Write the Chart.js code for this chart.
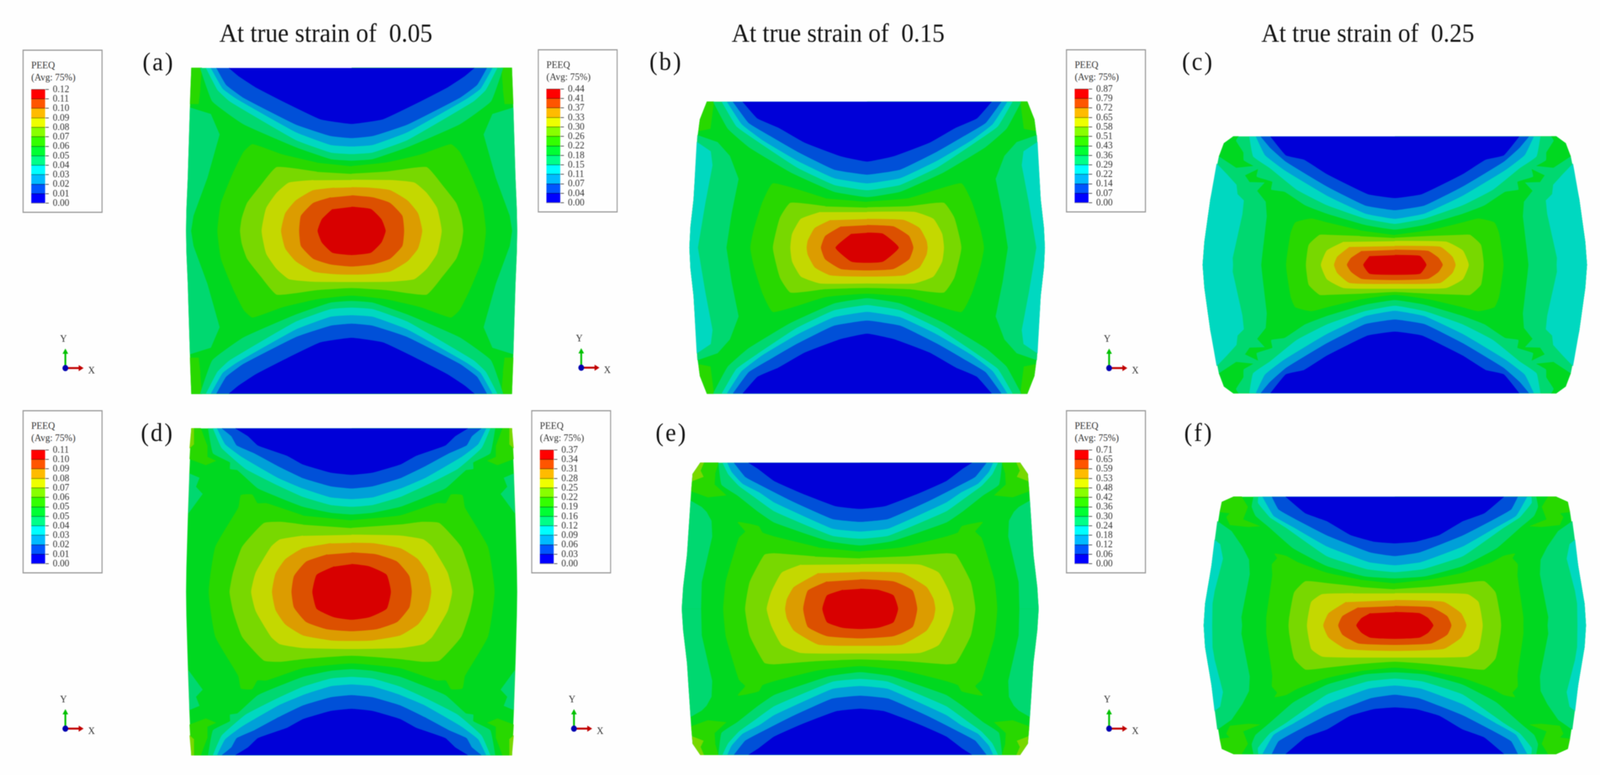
<!DOCTYPE html>
<html><head><meta charset="utf-8">
<script src="https://cdn.jsdelivr.net/npm/chart.js@4"></script>
<style>
html,body{margin:0;padding:0;background:#fefefe;overflow:hidden}
#page{position:relative;width:4398px;height:1984px;overflow:hidden;background:#fefefe;font-family:"Liberation Serif",serif;color:#111;transform-origin:0 0;filter:blur(1px)}
canvas{position:absolute}
.t{position:absolute;white-space:pre;line-height:1}
.box{position:absolute;border:3px solid #999;box-sizing:border-box;width:220px;height:418px}
</style></head><body><div id="page"></div>
<script>
// Contour levels, lowest (0) to highest (11)
const plotColours=['#0000d8','#0050d8','#00a0d8','#00d8c0','#00d870','#00d820','#28d800','#78d800','#c4d800','#dc9c00','#dc5000','#d80000'];
const legendColours=['#0000ff','#0055ff','#00bbff','#00ffff','#00ff88','#00ff33','#33ff00','#88ff00','#eeff00','#ffbb00','#ff5500','#ff0000'];

const titles=['At true strain of  0.05','At true strain of  0.15','At true strain of  0.25'];
const panelNames=['a','b','c','d','e','f'];

// PEEQ legend tick labels
const ticksA=['0.12','0.11','0.10','0.09','0.08','0.07','0.06','0.05','0.04','0.03','0.02','0.01','0.00'];
const ticksB=['0.44','0.41','0.37','0.33','0.30','0.26','0.22','0.18','0.15','0.11','0.07','0.04','0.00'];
const ticksC=['0.87','0.79','0.72','0.65','0.58','0.51','0.43','0.36','0.29','0.22','0.14','0.07','0.00'];
const ticksD=['0.11','0.10','0.09','0.08','0.07','0.06','0.05','0.05','0.04','0.03','0.02','0.01','0.00'];
const ticksE=['0.37','0.34','0.31','0.28','0.25','0.22','0.19','0.16','0.12','0.09','0.06','0.03','0.00'];
const ticksF=['0.71','0.65','0.59','0.53','0.48','0.42','0.36','0.30','0.24','0.18','0.12','0.06','0.00'];

// Quarter contours in specimen units, centre of specimen at 0,0.
// caps*: contour levels 4,3,2,1,0 ; core*: levels 6..11 ; patches: [level, polygon]
const outlineA=[[0,641],[460,641],[464,480],[470,210],[474,80],[475,0]];
const capsA=[
 [[0,277],[60,283],[160,330],[310,420],[400,510],[435,641]],
 [[0,303],[60,309],[160,358],[350,510],[385,555],[418,641]],
 [[0,333],[60,339],[160,389],[330,520],[370,560],[404,641]],
 [[0,366],[60,374],[160,419],[310,524],[360,575],[388,641]],
 [[0,422],[90,440],[190,505],[275,565],[325,610],[352,641]]];
const coreA=[
 [[0,254],[100,268],[200,300],[285,340],[310,310],[340,229],[375,109],[385,0]],
 [[0,224],[100,232],[215,250],[260,180],[300,109],[315,50],[320,0]],
 [[0,200],[110,199],[180,189],[215,149],[245,89],[258,0]],
 [[0,171],[50,169],[110,159],[160,119],[190,69],[202,0]],
 [[0,139],[60,131],[110,109],[145,59],[150,0]],
 [[0,94],[55,85],[85,45],[97,0]]];
const patchesA=[
 [4,[[462,0],[455,60],[415,209],[380,379],[405,459],[464,484],[470,210],[474,80],[475,0]]],
 [6,[[430,641],[460,641],[464,500],[440,500],[435,560]]]];

const outlineB=[[0,637],[460,637],[480,560],[487,480],[498,210],[507,90],[510,0]];
const capsB=[
 [[0,222],[95,245],[220,330],[340,440],[400,520],[442,637]],
 [[0,252],[95,275],[200,350],[310,460],[375,530],[417,637]],
 [[0,282],[95,305],[200,380],[300,470],[360,540],[402,637]],
 [[0,320],[95,342],[200,420],[280,490],[340,545],[385,637]],
 [[0,377],[75,400],[180,460],[255,525],[315,565],[357,637]]];
const coreB=[
 [[0,200],[120,215],[270,280],[300,200],[325,80],[335,0]],
 [[0,175],[120,180],[220,195],[250,130],[270,0]],
 [[0,155],[135,155],[190,125],[215,60],[220,0]],
 [[0,125],[105,120],[150,85],[170,30],[173,0]],
 [[0,98],[75,92],[120,50],[132,0]],
 [[0,65],[45,60],[90,0]]];
const patchesB=[
 [4,[[405,0],[390,150],[370,300],[395,400],[430,460],[487,490],[498,210],[507,90],[510,0]]],
 [3,[[487,0],[465,200],[445,360],[450,420],[489,460],[498,210],[507,90],[510,0]]],
 [6,[[440,637],[460,637],[480,560],[484,510],[450,520]]]];

const outlineC=[[0,560],[464,560],[491,530],[505,474],[530,285],[547,100],[552,0]];
const capsC=[
 [[0,155],[85,175],[195,224],[258,261],[317,320],[355,329],[352,363],[397,386],[393,420],[434,457],[435,491],[456,542],[449,560]],
 [[0,180],[85,203],[195,261],[282,329],[359,423],[407,474],[418,560]],
 [[0,202],[85,225],[195,303],[317,414],[373,480],[399,560]],
 [[0,240],[85,260],[195,343],[313,451],[359,513],[385,560]],
 [[0,293],[78,310],[195,397],[261,460],[313,479],[357,560]]];
const coreC=[
 [[0,130],[100,150],[195,184],[240,201],[286,184],[299,139],[312,0]],
 [[0,117],[100,125],[195,130],[216,130],[247,87],[255,0]],
 [[0,103],[147,100],[195,62],[212,0]],
 [[0,82],[130,78],[165,35],[174,0]],
 [[0,65],[95,60],[125,30],[137,0]],
 [[0,42],[72,38],[90,0]]];
const patchesC=[
 [4,[[385,0],[383,30],[369,212],[372,275],[397,323],[376,358],[418,360],[432,391],[393,420],[400,434],[456,425],[505,474],[530,285],[547,100],[552,0]]],
 [3,[[466,0],[467,30],[439,222],[435,281],[453,308],[456,349],[484,396],[512,440],[530,285],[547,100],[552,0]]],
 [5,[[449,560],[464,560],[491,530],[505,474],[456,425],[400,434],[434,457],[435,491],[456,542]]]];

const outlineD=[[0,680],[460,680],[465,510],[470,300],[474,100],[475,0]];
const capsD=[
 [[0,323],[60,330],[140,355],[269,431],[328,507],[349,512],[349,539],[398,577],[412,680]],
 [[0,355],[60,362],[140,396],[217,447],[304,512],[373,599],[398,680]],
 [[0,387],[60,394],[140,431],[210,474],[314,561],[363,615],[386,680]],
 [[0,431],[60,440],[140,474],[210,523],[279,577],[330,610],[345,648],[372,680]],
 [[0,488],[60,497],[140,531],[185,567],[269,610],[297,648],[333,680]]];
const coreD=[
 [[0,297],[140,317],[245,368],[271,368],[286,404],[318,401],[325,350],[391,187],[410,0]],
 [[0,265],[140,279],[203,290],[252,285],[314,187],[340,80],[350,0]],
 [[0,237],[140,233],[206,217],[231,187],[275,80],[288,0]],
 [[0,203],[60,201],[140,180],[190,135],[218,75],[228,0]],
 [[0,163],[70,155],[130,125],[165,65],[172,0]],
 [[0,115],[50,105],[100,70],[112,0]]];
const patchesD=[
 [4,[[466,491],[438,474],[448,437],[429,407],[469,328]]],
 [6,[[433,680],[460,680],[465,553],[419,528],[391,545],[415,561],[415,610]]],
 [7,[[453,680],[460,680],[465,599],[453,615]]]];

const outlineE=[[0,608],[459,608],[481,561],[485,490],[497,225],[508,90],[512,0]];
const capsE=[
 [[0,265],[90,282],[247,360],[296,408],[353,473],[398,517],[407,608]],
 [[0,293],[80,305],[247,407],[306,468],[348,512],[379,561],[395,608]],
 [[0,323],[80,335],[247,444],[289,485],[338,522],[369,571],[381,608]],
 [[0,363],[80,375],[190,445],[292,520],[330,550],[362,608]],
 [[0,417],[70,428],[170,483],[247,533],[292,582],[320,608]]];
const coreE=[
 [[0,238],[120,255],[247,300],[281,317],[292,343],[351,360],[330,322],[348,295],[375,170],[386,111],[393,0]],
 [[0,210],[130,217],[247,230],[275,224],[317,111],[330,0]],
 [[0,185],[170,183],[225,150],[255,70],[268,0]],
 [[0,153],[120,148],[190,90],[210,40],[215,0]],
 [[0,122],[95,113],[150,75],[163,0]],
 [[0,83],[50,78],[95,55],[108,0]]];
const patchesE=[
 [4,[[458,0],[456,111],[426,301],[428,366],[442,403],[456,423],[487,449],[497,225],[508,90],[512,0]]],
 [6,[[407,608],[459,608],[481,561],[485,490],[438,465],[386,473],[419,517],[417,561]]],
 [7,[[449,608],[459,608],[481,561],[482,533],[451,550],[459,574]]]];

const outlineF=[[0,536],[463,536],[497,514],[503,473],[527,245],[545,90],[549,0]];
const capsF=[
 [[0,197],[85,205],[195,248],[292,322],[360,408],[400,457],[411,495],[406,536]],
 [[0,223],[80,235],[195,289],[313,408],[359,451],[393,511],[392,536]],
 [[0,252],[75,265],[195,330],[289,408],[348,457],[380,536]],
 [[0,290],[70,305],[195,376],[282,441],[334,484],[353,536]],
 [[0,343],[60,350],[128,378],[195,435],[257,468],[313,536]]];
const coreF=[
 [[0,175],[100,190],[195,218],[279,262],[313,289],[345,298],[338,280],[353,254],[352,208],[369,35],[369,0]],
 [[0,150],[100,160],[195,175],[257,183],[289,137],[303,35],[305,0]],
 [[0,133],[120,133],[209,129],[240,97],[252,0]],
 [[0,105],[140,97],[190,50],[205,0]],
 [[0,80],[105,74],[150,38],[162,0]],
 [[0,55],[70,50],[95,30],[110,0]]];
const patchesF=[
 [4,[[440,0],[442,35],[418,213],[420,273],[439,327],[470,392],[510,433],[527,245],[545,90],[549,0]]],
 [3,[[526,0],[525,90],[519,143],[495,278],[503,338],[518,355],[527,245],[545,90],[549,0]]],
 [6,[[440,536],[463,536],[497,514],[503,473],[474,468],[484,451],[474,419],[421,411],[390,414],[437,441],[423,495]]]];

const triadX=[[0,0],[1,0]];
const triadY=[[0,0],[0,1]];
const triadO=[[0,0]];

// Layout only
const layout=[
 {outline:outlineA,caps:capsA,core:coreA,patches:patchesA,ticks:ticksA,cx:966,cy:591,ux:.9566,uy:.6505,box:[62,127],triad:[174,948],tag:[392,125]},
 {outline:outlineB,caps:capsB,core:coreB,patches:patchesB,ticks:ticksB,cx:2383,cy:634,ux:.9566,uy:.5867,box:[1478,126],triad:[1592,947],tag:[1785,124]},
 {outline:outlineC,caps:capsC,core:coreC,patches:patchesC,ticks:ticksC,cx:3834,cy:678,ux:.9554,uy:.5867,box:[2930,126],triad:[3043,948],tag:[3249,124]},
 {outline:outlineD,caps:capsD,core:coreD,patches:patchesD,ticks:ticksD,cx:966,cy:1515,ux:.9566,uy:.6148,box:[62,1050],triad:[174,1871],tag:[387,1074]},
 {outline:outlineE,caps:capsE,core:coreE,patches:patchesE,ticks:ticksE,cx:2364,cy:1558,ux:.9566,uy:.6148,box:[1460,1050],triad:[1572,1871],tag:[1802,1074]},
 {outline:outlineF,caps:capsF,core:coreF,patches:patchesF,ticks:ticksF,cx:3834,cy:1601,ux:.9554,uy:.6148,box:[2930,1050],triad:[3043,1871],tag:[3255,1074]}
];
const titleSpots=[[603,50],[2011,50],[3467,50]];
const page=document.getElementById('page');
// The window may be narrower than the figure: keep the whole figure in view.
if(innerWidth<4398) page.style.transform=`scaleX(${innerWidth/4398})`;

function addCanvas(l,t,w,h){const c=document.createElement('canvas');c.width=w;c.height=h;c.style.cssText=`left:${l}px;top:${t}px;width:${w}px;height:${h}px`;page.appendChild(c);return c;}
function addText(s,l,t,size,colour,extra){const d=document.createElement('div');d.className='t';d.textContent=s;d.style.cssText=`left:${l}px;top:${t}px;font-size:${size}px`+(colour?`;color:${colour}`:'')+(extra?';'+extra:'');page.appendChild(d);}
const mp=(q,sx,sy)=>q.map(([x,y])=>[x*sx,y*sy]);
function ringAll(q){return [...mp(q,1,1),...mp(q,1,-1).reverse().slice(1),...mp(q,-1,-1).slice(1),...mp(q,-1,1).reverse().slice(1,-1)];}
function capShape(q,s){return [...mp(q,-1,s).reverse().slice(0,-1),...mp(q,1,s)];}
function layer(level,pts,tension){const c=plotColours[level];return {data:pts.map(([x,y])=>({x,y})),showLine:true,fill:'shape',backgroundColor:c,borderColor:c,borderWidth:1.5,pointRadius:0,tension:tension||0};}
const bare={responsive:false,animation:false,devicePixelRatio:1,maintainAspectRatio:false,events:[],layout:{padding:0},plugins:{legend:{display:false},tooltip:{enabled:false}}};

layout.forEach((p,i)=>{
  const Xh=565,Yh=p.outline[0][1]+6;
  const w=Math.round(2*Xh*p.ux),h=Math.round(2*Yh*p.uy);
  const layers=[layer(5,ringAll(p.outline))];
  p.patches.filter(a=>a[0]<5).forEach(([lv,q])=>{ [[1,1],[1,-1],[-1,1],[-1,-1]].forEach(([a,b])=>layers.push(layer(lv,mp(q,a,b)))); });
  p.patches.filter(a=>a[0]>=5).forEach(([lv,q])=>{ [[1,1],[1,-1],[-1,1],[-1,-1]].forEach(([a,b])=>layers.push(layer(lv,mp(q,a,b)))); });
  p.core.forEach((q,k)=>layers.push(layer(6+k,ringAll(q),.15)));
  p.caps.forEach((q,k)=>{layers.push(layer(4-k,capShape(q,1),.12));layers.push(layer(4-k,capShape(q,-1),.12));});
  new Chart(addCanvas(p.cx-w/2,p.cy-h/2,w,h),{type:'scatter',data:{datasets:layers.reverse()},options:{...bare,
    scales:{x:{type:'linear',display:false,min:-Xh,max:Xh},y:{type:'linear',display:false,min:-Yh,max:Yh}}}});

  // legend
  const [bx,by]=p.box;
  const b=document.createElement('div');b.className='box';b.style.left=bx+'px';b.style.top=by+'px';page.appendChild(b);
  addText('PEEQ',bx+24,by+27,26,'#333');
  addText('(Avg: 75%)',bx+24,by+58,26,'#333');
  const pad=24,barH=291;
  const rev=[...p.ticks].reverse();
  new Chart(addCanvas(bx+24,by+102-pad,150,barH+2*pad),{type:'bar',
    data:{labels:['PEEQ'],datasets:legendColours.map(c=>({data:[1],backgroundColor:c,stack:'s',barPercentage:1,categoryPercentage:1,borderWidth:0}))},
    options:{...bare,layout:{padding:{top:pad,bottom:pad}},
     scales:{x:{display:false,stacked:true},
       y:{position:'right',stacked:true,min:0,max:12,afterFit:s=>{s.width=112;s.paddingTop=0;s.paddingBottom=0;},
         border:{display:true,color:'#555',width:1},
         grid:{z:1,color:'rgba(0,0,0,.4)',tickColor:'#555',tickLength:10,lineWidth:2,drawTicks:true},
         ticks:{stepSize:1,padding:11,autoSkip:false,color:'#333',font:{family:'Liberation Serif',size:26},callback:v=>rev[v]}}}}});

  // triad
  const s=52,m=16,tw=86,th=86;
  const [ox,oy]=p.triad;
  const line=(pts,c,rot)=>({data:pts.map(([x,y])=>({x,y})),showLine:true,borderColor:c,backgroundColor:c,borderWidth:5,pointRadius:[0,9],pointStyle:'triangle',pointRotation:rot,pointBorderWidth:0});
  new Chart(addCanvas(ox-m,oy-(th-m),tw,th),{type:'scatter',
    data:{datasets:[
      {data:triadO.map(([x,y])=>({x,y})),pointRadius:8,backgroundColor:'#0000b0',borderWidth:0},
      line(triadX,'#c00000',90),line(triadY,'#00c000',0)]},
    options:{...bare,scales:{x:{display:false,min:-m/s,max:(tw-m)/s},y:{display:false,min:-m/s,max:(th-m)/s}}}});
  addText('X',ox+68,oy-13,26,'#333');
  addText('Y',ox-9,oy-94,26,'#333');
  addText('('+panelNames[i]+')',p.tag[0],p.tag[1],66,null,'letter-spacing:5px');
});
titles.forEach((s,i)=>addText(s,titleSpots[i][0],titleSpots[i][1],68));
</script></body></html>
